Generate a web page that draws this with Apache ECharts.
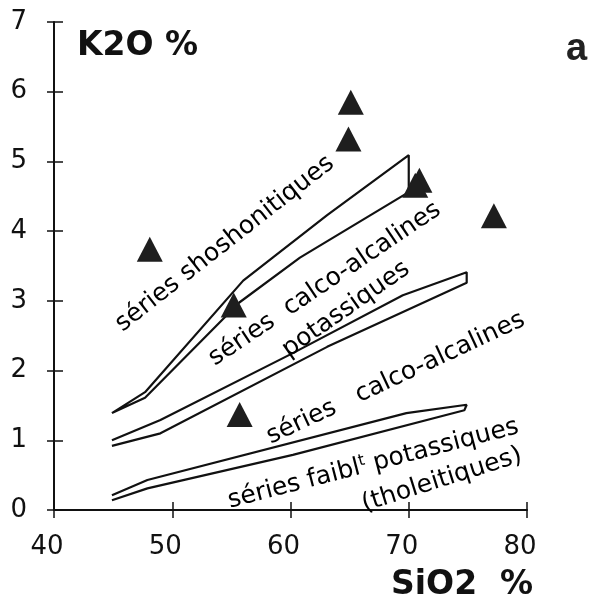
<!DOCTYPE html>
<html>
<head>
<meta charset="utf-8">
<script src="https://cdn.jsdelivr.net/npm/echarts@6/dist/echarts.min.js"></script>
<style>
html,body{margin:0;padding:0;background:#fff;}
#chart{width:590px;height:601px;}
</style>
</head>
<body>
<div id="chart"></div>
<script>
// ---- data ----
const xTicks = [40, 50, 60, 70, 80];
const yTicks = [0, 1, 2, 3, 4, 5, 6, 7];

// samples (triangles)
const sampleSiO2 = [48.1, 55.2, 55.7, 64.9, 65.1, 70.9, 70.55, 77.2];
const sampleK2O  = [3.74, 2.94, 1.37, 5.32, 5.85, 4.73, 4.66, 4.22];

// boundary bands (upper and lower edge of each band)
const shoshUpper = [[44.9, 1.39], [47.7, 1.69], [56.0, 3.29], [63.1, 4.23], [70.0, 5.09]];
const shoshLower = [[44.9, 1.39], [47.7, 1.61], [55.7, 2.98], [60.8, 3.62], [70.0, 4.56]];
const highKUpper = [[44.9, 1.00], [49.0, 1.29], [60.2, 2.25], [69.5, 3.08], [74.9, 3.41]];
const highKLower = [[44.9, 0.92], [49.0, 1.10], [63.1, 2.34], [74.9, 3.26]];
const lowKUpper  = [[44.9, 0.21], [47.9, 0.43], [69.8, 1.39], [74.9, 1.51]];
const lowKLower  = [[44.9, 0.14], [47.9, 0.31], [60.2, 0.79], [74.7, 1.43]];

// field annotations (data coordinates of text centres)
const annotationTexts = [
  'séries shoshonitiques',
  'séries  calco-alcalines',
  'potassiques',
  'séries   calco-alcalines',
  'séries faibl{sup|t} potassiques',
  '(tholeitiques)'
];
const annotationSiO2 = [54.45, 62.9, 64.7, 68.9, 67.0, 72.8];
const annotationK2O  = [3.82, 3.24, 2.88, 1.89, 0.66, 0.43];
const annotationAngle = [38, 34, 35, 25, 14.5, 17.5];

// ---- chart ----
const FONT = '"DejaVu Sans", Verdana, sans-serif';
const INK = '#111';

function band(upper, lower) {
  return upper.concat(lower.slice().reverse());
}

const chart = echarts.init(document.getElementById('chart'), null, {renderer: 'canvas'});

const baseX = {type: 'value', min: 40, max: 80, interval: 10, position: 'bottom'};
const baseY = {type: 'value', min: 0, max: 7, interval: 1, position: 'left'};

const option = {
  animation: false,
  backgroundColor: '#fff',
  grid: {left: 54, top: 22, width: 473, height: 488, containLabel: false},
  xAxis: [
    Object.assign({}, baseX, {
      axisLine: {show: true, onZero: false, lineStyle: {color: INK, width: 2}},
      axisTick: {show: true, inside: false, length: 8, lineStyle: {color: INK, width: 1.5}},
      axisLabel: {show: true, margin: 24, fontSize: 26, color: INK, fontFamily: FONT,
        padding: [0, 14, 0, 0],
        formatter: v => xTicks.indexOf(v) >= 0 ? String(v) : ''},
      splitLine: {show: false}
    }),
    Object.assign({}, baseX, {
      axisLine: {show: false},
      axisTick: {show: true, inside: true, length: 8, lineStyle: {color: INK, width: 1.5}},
      axisLabel: {show: false},
      splitLine: {show: false}
    })
  ],
  yAxis: [
    Object.assign({}, baseY, {
      axisLine: {show: true, onZero: false, lineStyle: {color: INK, width: 2}},
      axisTick: {show: true, inside: false, length: 7, lineStyle: {color: INK, width: 1.5}},
      axisLabel: {show: true, margin: 27, fontSize: 26, color: INK, fontFamily: FONT,
        padding: [5, 0, 0, 0],
        formatter: v => yTicks.indexOf(v) >= 0 ? String(v) : ''},
      splitLine: {show: false}
    }),
    Object.assign({}, baseY, {
      axisLine: {show: false},
      axisTick: {show: true, inside: true, length: 9, lineStyle: {color: INK, width: 1.5}},
      axisLabel: {show: false},
      splitLine: {show: false}
    })
  ],
  series: [
    {type: 'line', name: 'shosh', data: band(shoshUpper, shoshLower), showSymbol: false, symbol: 'none',
      lineStyle: {color: INK, width: 2.2}, z: 3},
    {type: 'line', name: 'highK', data: band(highKUpper, highKLower), showSymbol: false, symbol: 'none',
      lineStyle: {color: INK, width: 2.2}, z: 3},
    {type: 'line', name: 'lowK', data: band(lowKUpper, lowKLower), showSymbol: false, symbol: 'none',
      lineStyle: {color: INK, width: 2.2}, z: 3},
    {type: 'scatter', name: 'samples',
      data: sampleSiO2.map((x, i) => [x, sampleK2O[i]]),
      symbol: 'triangle', symbolSize: [26, 25],
      itemStyle: {color: '#1e1e1e', opacity: 1}, z: 5},
    {type: 'scatter', name: 'labels', symbolSize: 0, silent: true, z: 6,
      itemStyle: {opacity: 1},
      data: annotationTexts.map((t, i) => ({
        value: [annotationSiO2[i], annotationK2O[i]],
        label: {
          show: true, position: 'inside', formatter: t, rotate: annotationAngle[i],
          align: 'center', verticalAlign: 'middle', opacity: 1,
          fontSize: 25, color: '#000', fontFamily: FONT, lineHeight: 28,
          rich: {sup: {fontSize: 16, fontFamily: FONT, color: '#000', verticalAlign: 'top', lineHeight: 15, padding: [0, 0, 11, 0]}}
        }
      }))}
  ],
  graphic: [
    {type: 'text', left: 77, top: 30, style: {text: 'K2O %', fontSize: 33, fontWeight: 'bold', fontFamily: FONT, fill: INK}},
    {type: 'text', left: 391, top: 569, style: {text: 'SiO2  %', fontSize: 33, fontWeight: 'bold', fontFamily: FONT, fill: INK}},
    {type: 'text', left: 566, top: 31, style: {text: 'a', fontSize: 38, fontWeight: 'bold', fontFamily: '"Liberation Sans", Arial, sans-serif', fill: '#222'}}
  ]
};
chart.setOption(option);
</script>
</body>
</html>
